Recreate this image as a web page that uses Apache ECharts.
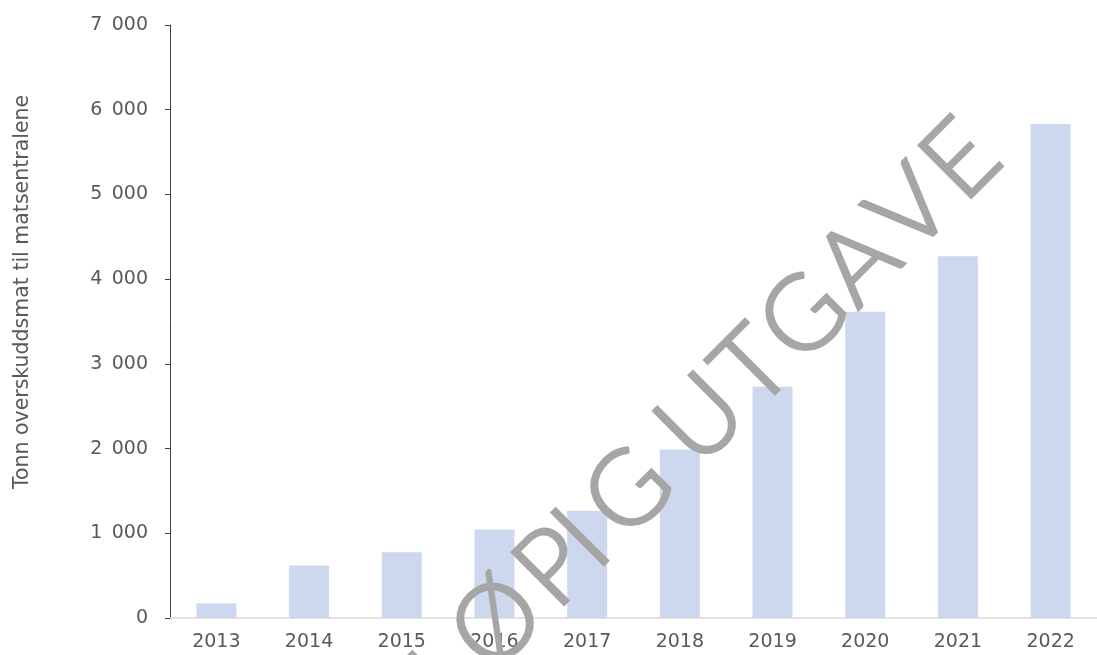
<!DOCTYPE html>
<html>
<head>
<meta charset="utf-8">
<script src="https://cdn.jsdelivr.net/npm/echarts@6/dist/echarts.min.js"></script>
<style>
  html, body { margin: 0; padding: 0; background: #fff; }
  #chart { width: 1097px; height: 655px; }
</style>
</head>
<body>
<div id="chart"></div>
<script>
  // år og tonn overskuddsmat (lest av figuren)
  const years = ['2013', '2014', '2015', '2016', '2017', '2018', '2019', '2020', '2021', '2022']
  const tonnes = [175, 620, 775, 1045, 1265, 1990, 2730, 3615, 4270, 5830]
  const yTicks = [0, 1000, 2000, 3000, 4000, 5000, 6000, 7000]
  const yTitle = 'Tonn overskuddsmat til matsentralene'
  const watermark = 'FORELØPIG UTGAVE'

  const labelFont = 'DejaVu Sans'
  const grey = '#595959'

  let chart = echarts.init(document.getElementById('chart'))

  // vannmerket legges bokstav for bokstav langs en 45-graders linje (x + y = 1121),
  // avstand langs linjen gitt som x - y for hver bokstav
  const markSteps = [-560, -470, -380, -300, -225, -126, -13, 43, 137, null, 282, 385, 487, 595, 701, 801]
  function markLetters () {
    let out = []
    watermark.split('').forEach((ch, i) => {
      let d = markSteps[i]
      if (ch === ' ' || d === null) return
      out.push({
        type: 'text',
        x: (1121 + d) / 2,
        y: (1121 - d) / 2,
        z: 100,
        rotation: Math.PI / 4,
        style: {
          text: ch,
          font: '300 104px Lato',
          fill: '#a6a6a6',
          stroke: '#a6a6a6',
          lineWidth: 3,
          lineJoin: 'round',
          textAlign: 'center',
          textVerticalAlign: 'middle'
        }
      })
    })
    return out
  }

  let options = {
    animation: false,
    grid: {
      left: 170,
      right: -9,
      top: 25,
      bottom: 37
    },
    xAxis: {
      type: 'category',
      data: years,
      axisLine: {
        lineStyle: { color: '#d9d9d9', width: 1.5 }
      },
      axisTick: { show: false },
      axisLabel: {
        color: grey,
        fontFamily: labelFont,
        fontSize: 19,
        margin: 15
      }
    },
    yAxis: {
      type: 'value',
      min: yTicks[0],
      max: yTicks[yTicks.length - 1],
      interval: 1000,
      axisLine: {
        show: true,
        lineStyle: { color: '#404040', width: 1 }
      },
      axisTick: {
        show: true,
        length: 5,
        lineStyle: { color: '#404040' }
      },
      splitLine: { show: false },
      axisLabel: {
        color: grey,
        fontFamily: labelFont,
        fontSize: 19,
        margin: 22,
        formatter: v => String(v).replace(/\B(?=(\d{3})+(?!\d))/g, '\u2002')
      }
    },
    series: [{
      type: 'bar',
      data: tonnes,
      barWidth: 40,
      itemStyle: { color: '#cdd8ef' }
    }],
    graphic: [{
      type: 'text',
      x: 23,
      y: 292,
      rotation: Math.PI / 2,
      style: {
        text: yTitle,
        font: '20.5px "DejaVu Sans"',
        fill: grey,
        textAlign: 'center',
        textVerticalAlign: 'middle'
      }
    }].concat(markLetters())
  }

  chart.setOption(options)
</script>
</body>
</html>
